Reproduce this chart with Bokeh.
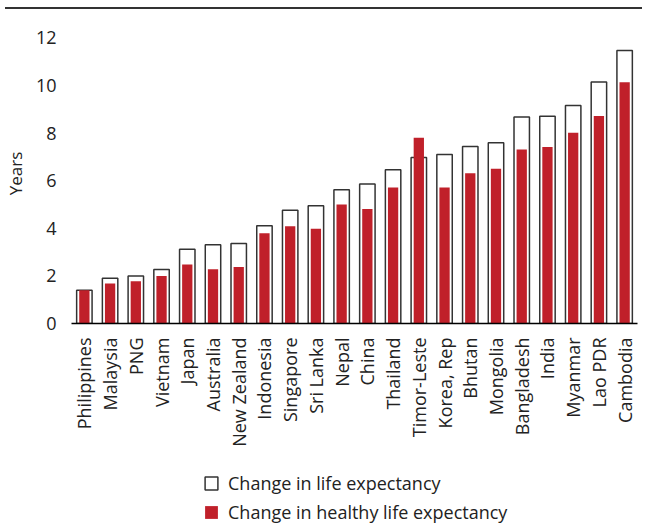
import math
from bokeh.plotting import figure
from bokeh.models import ColumnDataSource, FactorRange, Range1d, Legend, LegendItem, Div, FixedTicker
from bokeh.layouts import column
from bokeh.embed import file_html
from bokeh.resources import INLINE

countries = ["Philippines", "Malaysia", "PNG", "Vietnam", "Japan", "Australia",
             "New Zealand", "Indonesia", "Singapore", "Sri Lanka", "Nepal", "China",
             "Thailand", "Timor-Leste", "Korea, Rep", "Bhutan", "Mongolia",
             "Bangladesh", "India", "Myanmar", "Lao PDR", "Cambodia"]
life_exp = [1.4, 1.9, 2.0, 2.27, 3.12, 3.31, 3.36, 4.11, 4.76, 4.95, 5.62,
            5.86, 6.46, 6.97, 7.1, 7.43, 7.59, 8.67, 8.7, 9.16, 10.14, 11.47]
healthy_exp = [1.4, 1.68, 1.77, 1.99, 2.48, 2.28, 2.37, 3.79, 4.08, 3.98, 5.0,
               4.81, 5.71, 7.8, 5.71, 6.31, 6.5, 7.31, 7.41, 8.01, 8.71, 10.13]
y_ticks = [0, 2, 4, 6, 8, 10, 12]

FONT = "Open Sans"
RED = "#C0202A"
TXT = "#222222"

src = ColumnDataSource(dict(country=countries, le=life_exp, hle=healthy_exp))

p = figure(x_range=FactorRange(factors=countries, range_padding=0),
           y_range=Range1d(0, 12.6),
           frame_width=566, frame_height=300,
           output_backend="svg", toolbar_location=None,
           min_border_left=69, min_border_right=0, min_border_top=9,
           min_border_bottom=0)
p.outline_line_color = None
p.grid.grid_line_color = None

r1 = p.vbar(x="country", top="le", bottom=0, width=0.6, source=src,
            fill_color="white", line_color="#333333", line_width=1.5)
r2 = p.vbar(x="country", top="hle", bottom=0, width=0.4, source=src,
            fill_color=RED, line_color=None)

# y axis
p.yaxis.ticker = FixedTicker(ticks=y_ticks)
p.yaxis.axis_line_color = None
p.yaxis.major_tick_line_color = None
p.yaxis.minor_tick_line_color = None
p.yaxis.major_label_standoff = 9
p.yaxis.major_label_text_font = FONT
p.yaxis.major_label_text_font_size = "18px"
p.yaxis.major_label_text_color = TXT
p.yaxis.axis_label = "Years"
p.yaxis.axis_label_text_font = FONT
p.yaxis.axis_label_text_font_size = "17px"
p.yaxis.axis_label_text_font_style = "normal"
p.yaxis.axis_label_text_color = TXT
p.yaxis.axis_label_standoff = 6

# x axis
p.xaxis.axis_line_color = "black"
p.xaxis.axis_line_width = 1.5
p.xaxis.major_tick_line_color = None
p.xaxis.minor_tick_line_color = None
p.xaxis.major_label_orientation = math.pi / 2
p.xaxis.major_label_standoff = 8
p.xaxis.major_label_text_font = FONT
p.xaxis.major_label_text_font_size = "18px"
p.xaxis.major_label_text_color = TXT

# legend sits in the right side panel, offset back under the chart
legend = Legend(items=[LegendItem(label="Change in life expectancy", renderers=[r1]),
                       LegendItem(label="Change in healthy life expectancy", renderers=[r2])],
                location=(-434, -201), orientation="vertical",
                glyph_width=16, glyph_height=16, label_height=25, spacing=4,
                label_standoff=9, padding=0, margin=0,
                border_line_color=None, background_fill_alpha=0,
                label_text_font=FONT, label_text_font_size="18px",
                label_text_color=TXT)
p.add_layout(legend, "right")

rule = Div(text="", width=637, height=4,
           styles={"border-bottom": "2px solid #333333", "box-sizing": "border-box"})

layout = column(rule, p, spacing=0)
open("out.html", "w").write(file_html(layout, INLINE))
